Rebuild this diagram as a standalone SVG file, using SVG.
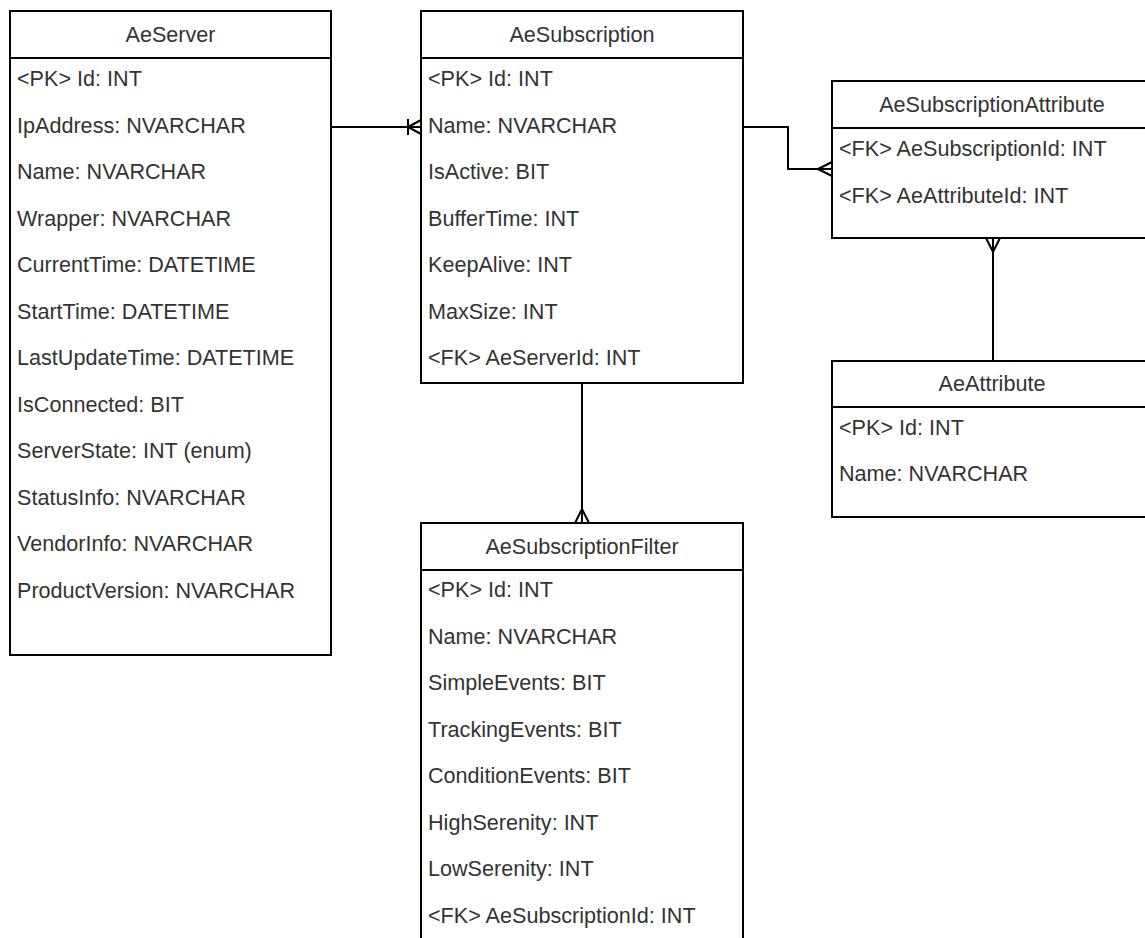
<svg xmlns="http://www.w3.org/2000/svg" width="1145" height="938" viewBox="0 0 1145 938">
<defs>
<style>
.box{fill:#fff;stroke:#000;stroke-width:2}
.div{stroke:#000;stroke-width:2}
.t{font-family:"Liberation Sans",Arial,sans-serif;font-size:21.6px;fill:#333}
.h{text-anchor:middle}
.c{fill:none;stroke:#000;stroke-width:2}
</style>
<marker id="many" markerUnits="userSpaceOnUse" viewBox="0 0 20 20" refX="20" refY="10" markerWidth="20" markerHeight="20" orient="auto" overflow="visible">
<path d="M6,10 L20,3 M6,10 L20,17 M6,10 L20,10" fill="none" stroke="#000" stroke-width="2"/>
</marker>
<marker id="oneMany" markerUnits="userSpaceOnUse" viewBox="0 0 20 20" refX="20" refY="10" markerWidth="20" markerHeight="20" orient="auto" overflow="visible">
<path d="M7,10 L20,3 M7,10 L20,17 M7,10 L20,10 M7,2 L7,18" fill="none" stroke="#000" stroke-width="2"/>
</marker>
</defs>
<rect width="1145" height="938" fill="#fff"/>

<g id="connectors">
<path class="c" d="M332,127 L421,127" marker-end="url(#oneMany)"/>
<path class="c" d="M743,127 L788,127 L788,169 L832,169" marker-end="url(#many)"/>
<path class="c" d="M582,383 L582,523" marker-end="url(#many)"/>
<path class="c" d="M993,361 L993,238" marker-end="url(#many)"/>
</g>

<g id="AeServer">
<rect class="box" x="10" y="11" width="321" height="644"/>
<line class="div" x1="10" y1="58" x2="331" y2="58"/>
<text class="t h" x="170.5" y="42">AeServer</text>
<text class="t" x="17" y="86">&lt;PK&gt; Id: INT</text>
<text class="t" x="17" y="132.5">IpAddress: NVARCHAR</text>
<text class="t" x="17" y="179">Name: NVARCHAR</text>
<text class="t" x="17" y="225.5">Wrapper: NVARCHAR</text>
<text class="t" x="17" y="272">CurrentTime: DATETIME</text>
<text class="t" x="17" y="318.5">StartTime: DATETIME</text>
<text class="t" x="17" y="365">LastUpdateTime: DATETIME</text>
<text class="t" x="17" y="411.5">IsConnected: BIT</text>
<text class="t" x="17" y="458">ServerState: INT (enum)</text>
<text class="t" x="17" y="504.5">StatusInfo: NVARCHAR</text>
<text class="t" x="17" y="551">VendorInfo: NVARCHAR</text>
<text class="t" x="17" y="597.5">ProductVersion: NVARCHAR</text>
</g>

<g id="AeSubscription">
<rect class="box" x="421" y="11" width="322" height="372"/>
<line class="div" x1="421" y1="58" x2="743" y2="58"/>
<text class="t h" x="582" y="42">AeSubscription</text>
<text class="t" x="428" y="86">&lt;PK&gt; Id: INT</text>
<text class="t" x="428" y="132.5">Name: NVARCHAR</text>
<text class="t" x="428" y="179">IsActive: BIT</text>
<text class="t" x="428" y="225.5">BufferTime: INT</text>
<text class="t" x="428" y="272">KeepAlive: INT</text>
<text class="t" x="428" y="318.5">MaxSize: INT</text>
<text class="t" x="428" y="365">&lt;FK&gt; AeServerId: INT</text>
</g>

<g id="AeSubscriptionAttribute">
<rect class="box" x="832" y="81" width="320" height="157"/>
<line class="div" x1="832" y1="128" x2="1152" y2="128"/>
<text class="t h" x="992" y="112">AeSubscriptionAttribute</text>
<text class="t" x="839" y="156">&lt;FK&gt; AeSubscriptionId: INT</text>
<text class="t" x="839" y="202.5">&lt;FK&gt; AeAttributeId: INT</text>
</g>

<g id="AeAttribute">
<rect class="box" x="832" y="361" width="320" height="156"/>
<line class="div" x1="832" y1="407" x2="1152" y2="407"/>
<text class="t h" x="992" y="391">AeAttribute</text>
<text class="t" x="839" y="434.5">&lt;PK&gt; Id: INT</text>
<text class="t" x="839" y="481">Name: NVARCHAR</text>
</g>

<g id="AeSubscriptionFilter">
<rect class="box" x="421" y="523" width="322" height="440"/>
<line class="div" x1="421" y1="570" x2="743" y2="570"/>
<text class="t h" x="582" y="554">AeSubscriptionFilter</text>
<text class="t" x="428" y="597">&lt;PK&gt; Id: INT</text>
<text class="t" x="428" y="643.5">Name: NVARCHAR</text>
<text class="t" x="428" y="690">SimpleEvents: BIT</text>
<text class="t" x="428" y="736.5">TrackingEvents: BIT</text>
<text class="t" x="428" y="783">ConditionEvents: BIT</text>
<text class="t" x="428" y="829.5">HighSerenity: INT</text>
<text class="t" x="428" y="876">LowSerenity: INT</text>
<text class="t" x="428" y="922.5">&lt;FK&gt; AeSubscriptionId: INT</text>
</g>
</svg>
